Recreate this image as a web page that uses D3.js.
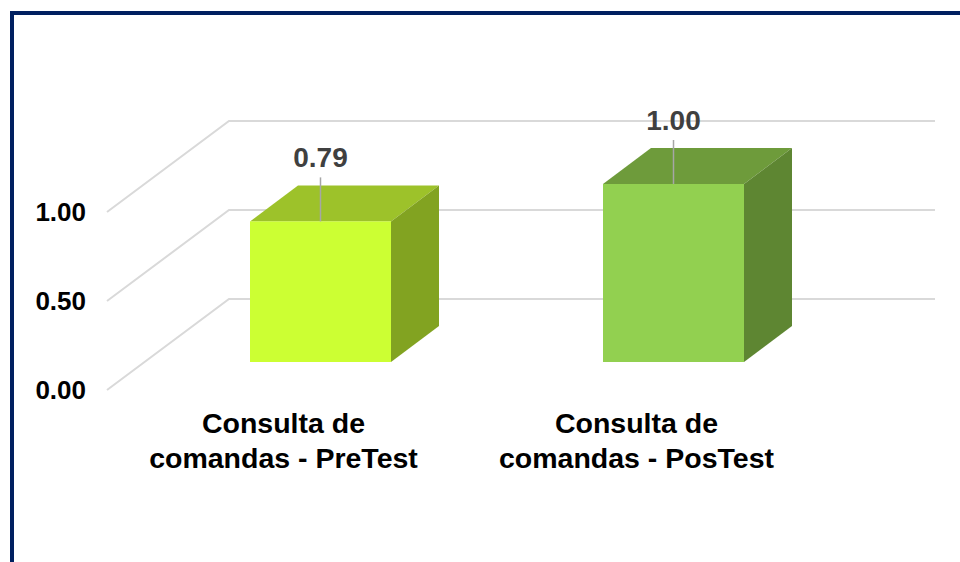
<!DOCTYPE html>
<html>
<head>
<meta charset="utf-8">
<script src="https://cdn.jsdelivr.net/npm/d3@7"></script>
<style>
  body { margin: 0; background: #fff; }
  svg { display: block; font-family: "Liberation Sans", Arial, sans-serif; }
</style>
</head>
<body>
<svg class="chart"></svg>
<script>
// DATA ////////////////////////////////////////
const categories = [
  ["Consulta de", "comandas - PreTest"],
  ["Consulta de", "comandas - PosTest"],
];
const values = [0.79, 1.0];
const tickValues = [0, 0.5, 1.0];
const barColors = [
  { front: "#CCFF33", top: "#9DC22A", side: "#82A321" },
  { front: "#92D050", top: "#6E9B3B", side: "#5E8632" },
];

// DEFINITIONS /////////////////////////////////
const width = 960;
const height = 562;
const depth = { dx: 122, dy: -91 }; // wall depth
const barDepth = { dx: 48, dy: -36 };
const barShift = { dx: 37, dy: 0 }; // bar front relative to front plane
const barWidth = 141;

const svg = d3.select(".chart").attr("width", width).attr("height", height);

const x = d3.scaleBand().domain(d3.range(categories.length)).range([107, 813]);
const y = d3.scaleLinear().domain([0, 1]).range([390, 212]);
// bar heights (Excel's 3D projection)
const yBar = d3.scaleLinear().domain([0, 1]).range([362, 184]);

// frame
svg
  .append("rect")
  .attr("x", 12)
  .attr("y", 13)
  .attr("width", width)
  .attr("height", height)
  .attr("fill", "none")
  .attr("stroke", "#002060")
  .attr("stroke-width", 4);

// GRID ////////////////////////////////////////
const grid = svg.append("g").attr("stroke", "#D9D9D9").attr("stroke-width", 2).attr("fill", "none");
const lineGen = d3.line();
tickValues.forEach((t) => {
  const fx = x.range()[0];
  const bx = fx + depth.dx;
  const by = y(t) + depth.dy;
  grid.append("path").attr("d", lineGen([[fx, y(t)], [bx, by], [x.range()[1] + depth.dx, by]]));
});

// y labels
svg
  .append("g")
  .selectAll("text")
  .data(tickValues)
  .join("text")
  .attr("x", 86)
  .attr("y", (d) => y(d))
  .attr("dy", "0.35em")
  .attr("text-anchor", "end")
  .attr("font-size", 26)
  .attr("font-weight", "bold")
  .attr("fill", "#000")
  .text((d) => d.toFixed(2));

// BARS ////////////////////////////////////////
const bars = svg
  .append("g")
  .selectAll("g")
  .data(values)
  .join("g");

const x0 = (i) => x(i) + x.bandwidth() / 2 + barShift.dx - barWidth / 2;

bars
  .append("path") // top
  .attr("fill", (d, i) => barColors[i].top)
  .attr("d", (d, i) => {
    const l = x0(i), r = l + barWidth, t = yBar(d);
    return lineGen([[l, t], [l + barDepth.dx, t + barDepth.dy], [r + barDepth.dx, t + barDepth.dy], [r, t]]) + "Z";
  });

bars
  .append("path") // side
  .attr("fill", (d, i) => barColors[i].side)
  .attr("d", (d, i) => {
    const r = x0(i) + barWidth, t = yBar(d), b = yBar(0);
    return lineGen([[r, t], [r + barDepth.dx, t + barDepth.dy], [r + barDepth.dx, b + barDepth.dy], [r, b]]) + "Z";
  });

bars
  .append("rect") // front
  .attr("x", (d, i) => x0(i))
  .attr("y", (d) => yBar(d))
  .attr("width", barWidth)
  .attr("height", (d) => yBar(0) - yBar(d))
  .attr("fill", (d, i) => barColors[i].front);

// value labels + leader lines
bars
  .append("line")
  .attr("x1", (d, i) => x0(i) + barWidth / 2)
  .attr("x2", (d, i) => x0(i) + barWidth / 2)
  .attr("y1", (d) => yBar(d) - 44)
  .attr("y2", (d) => yBar(d))
  .attr("stroke", "#A6A6A6")
  .attr("stroke-width", 1.5);

bars
  .append("text")
  .attr("x", (d, i) => x0(i) + barWidth / 2)
  .attr("y", (d) => yBar(d) - 54)
  .attr("text-anchor", "middle")
  .attr("font-size", 28)
  .attr("font-weight", "bold")
  .attr("fill", "#404040")
  .text((d) => d.toFixed(2));

// category labels
svg
  .append("g")
  .selectAll("text")
  .data(categories)
  .join("text")
  .attr("text-anchor", "middle")
  .attr("font-size", 28.5)
  .attr("font-weight", "bold")
  .attr("fill", "#000")
  .selectAll("tspan")
  .data((d, i) => d.map((line, k) => ({ line, k, i })))
  .join("tspan")
  .attr("x", (d) => x(d.i) + x.bandwidth() / 2)
  .attr("y", (d) => 433 + d.k * 35)
  .text((d) => d.line);
</script>
</body>
</html>
